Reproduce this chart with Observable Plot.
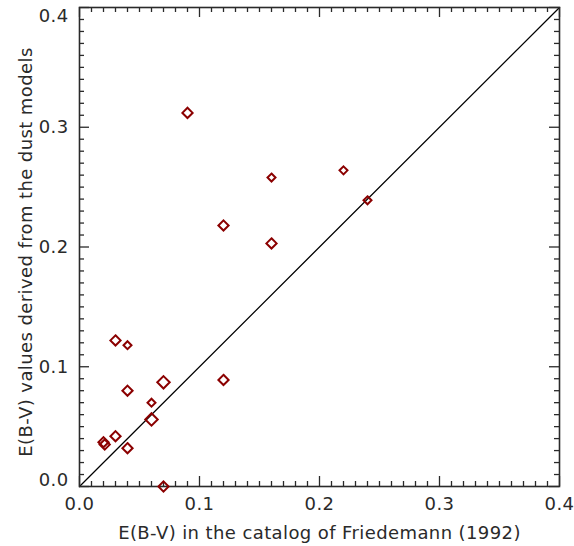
<!DOCTYPE html>
<html>
<head>
<meta charset="utf-8">
<script src="https://cdn.jsdelivr.net/npm/d3@7"></script>
<script src="https://cdn.jsdelivr.net/npm/@observablehq/plot@0.6"></script>
<style>
  html, body { margin: 0; padding: 0; background: #fff; }
</style>
</head>
<body>
<div id="chart"></div>
<script>
// --- data ---
const xCatalog = [0.09, 0.16, 0.22, 0.24, 0.12, 0.16, 0.03, 0.04, 0.07, 0.12, 0.04, 0.06, 0.06, 0.03, 0.02, 0.021, 0.04, 0.07];
const yModel   = [0.312, 0.258, 0.264, 0.239, 0.218, 0.203, 0.122, 0.118, 0.087, 0.089, 0.080, 0.070, 0.056, 0.042, 0.037, 0.035, 0.032, 0.000];
const sizeClass = [2, 1, 1, 1, 2, 2, 2, 1, 3, 2, 2, 1, 3, 2, 2, 2, 2, 2];
const majorTicks = [0.0, 0.1, 0.2, 0.3, 0.4];
const minorTicks = d3.range(0, 41).map(i => i / 100);
const diagonal = [0, 0.4];
const xLabel = "E(B-V) in the catalog of Friedemann (1992)";
const yLabel = "E(B-V) values derived from the dust models";

const points = xCatalog.map((x, i) => ({x, y: yModel[i], s: sizeClass[i]}));

const W = 574, H = 546, mL = 79, mR = 15, mT = 7, mB = 60;
const pw = W - mL - mR, ph = H - mT - mB;
const ink = "#2a2a2a";
const minorLen = 5, majorLen = 10;
const isMajor = d => Math.abs(d * 10 - Math.round(d * 10)) < 1e-9;
const minorOnly = minorTicks.filter(d => !isMajor(d));

const chart = Plot.plot({
  width: W, height: H,
  marginLeft: mL, marginRight: mR, marginTop: mT, marginBottom: mB,
  x: {domain: [0, 0.4], axis: null},
  y: {domain: [0, 0.4], axis: null},
  r: {type: "linear", domain: [1, 3], range: [3.6, 5.6]},
  style: {fontFamily: "'DejaVu Sans', sans-serif", fontSize: "18px", letterSpacing: "0.4px", color: ink, background: "#fff"},
  marks: [
    // diagonal y = x
    Plot.line(diagonal, {x: d => d, y: d => d, stroke: "#000", strokeWidth: 1.3}),
    // ticks (inward, all four sides)
    Plot.tickX(minorOnly, {x: d => d, stroke: ink, strokeWidth: 1.3, insetTop: ph - minorLen}),
    Plot.tickX(minorOnly, {x: d => d, stroke: ink, strokeWidth: 1.3, insetBottom: ph - minorLen}),
    Plot.tickX(majorTicks, {x: d => d, stroke: ink, strokeWidth: 1.3, insetTop: ph - majorLen}),
    Plot.tickX(majorTicks, {x: d => d, stroke: ink, strokeWidth: 1.3, insetBottom: ph - majorLen}),
    Plot.tickY(minorOnly, {y: d => d, stroke: ink, strokeWidth: 1.3, insetRight: pw - minorLen}),
    Plot.tickY(minorOnly, {y: d => d, stroke: ink, strokeWidth: 1.3, insetLeft: pw - minorLen}),
    Plot.tickY(majorTicks, {y: d => d, stroke: ink, strokeWidth: 1.3, insetRight: pw - majorLen}),
    Plot.tickY(majorTicks, {y: d => d, stroke: ink, strokeWidth: 1.3, insetLeft: pw - majorLen}),
    Plot.frame({stroke: ink, strokeWidth: 1.6}),
    // tick labels
    Plot.axisX({ticks: majorTicks, tickSize: 0, tickPadding: 11, tickFormat: d3.format(".1f"), label: null, fill: ink}),
    Plot.axisY({ticks: majorTicks.slice(1, 4), tickSize: 0, tickPadding: 11, tickFormat: d3.format(".1f"), label: null, fill: ink}),
    Plot.axisY({ticks: majorTicks.slice(0, 1), tickSize: 0, tickPadding: 11, tickFormat: d3.format(".1f"), label: null, fill: ink, dy: -6}),
    Plot.axisY({ticks: majorTicks.slice(4), tickSize: 0, tickPadding: 11, tickFormat: d3.format(".1f"), label: null, fill: ink, dy: 9}),
    // axis titles
    Plot.text([xLabel], {text: d => d, frameAnchor: "bottom", textAnchor: "middle", dy: 47, lineAnchor: "middle", fill: ink}),
    Plot.text([yLabel], {text: d => d, frameAnchor: "left", textAnchor: "middle", dx: -53, dy: 5, rotate: -90, lineAnchor: "middle", fill: ink}),
    // data
    Plot.dot(points, {x: "x", y: "y", r: "s", symbol: "diamond2", stroke: "#8b0000", strokeWidth: 2, fill: "none"})
  ]
});
document.getElementById("chart").appendChild(chart);
</script>
</body>
</html>
